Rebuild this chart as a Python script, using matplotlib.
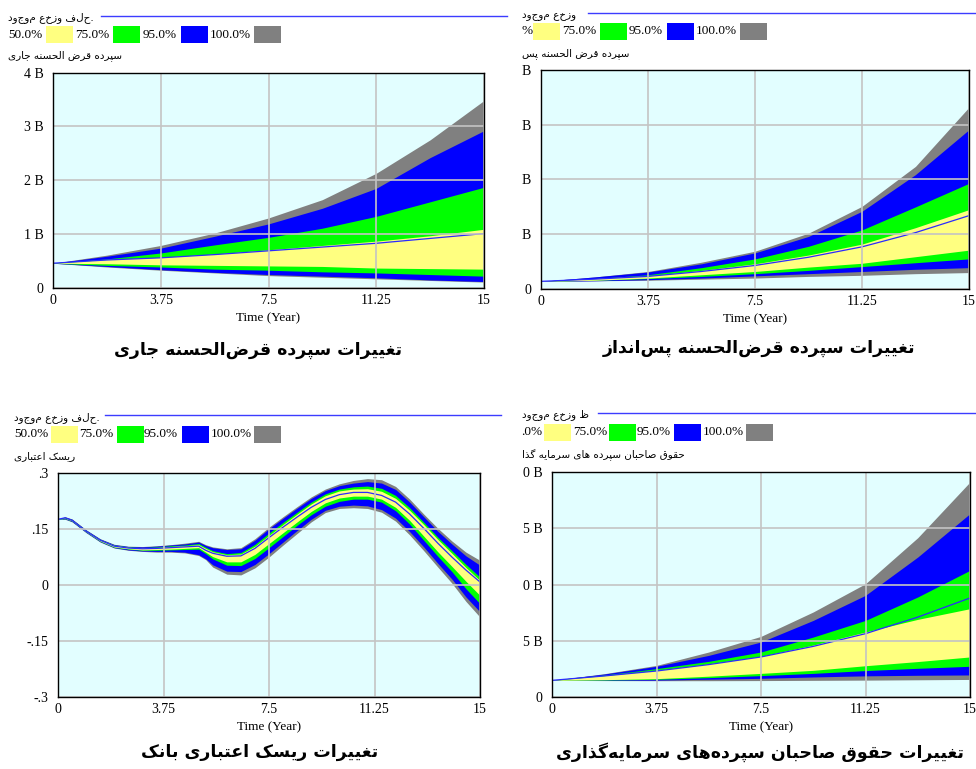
import matplotlib
matplotlib.use("Agg")
import matplotlib.pyplot as plt
from matplotlib.patches import Rectangle

W, H = 976, 769
SERIF = "Liberation Serif"
ARABIC = "DejaVu Sans"

BG = "#e2feff"
GRAY, BLUE, GREEN, YELLOW = "#808080", "#0000ff", "#00ff00", "#ffff80"
GRID = "#c4c4c4"

TICKS_X = [0, 3.75, 7.5, 11.25, 15]
TICK_LABELS_X = ["0", "3.75", "7.5", "11.25", "15"]
PCT_LABELS = ["50.0%", "75.0%", "95.0%", "100.0%"]

# ---- current deposits (B) ----
t1 = [0, 1.875, 3.75, 5.625, 7.5, 9.375, 11.25, 13.125, 15]
p1_gray_hi = [0.46, 0.61, 0.79, 1.02, 1.30, 1.64, 2.13, 2.75, 3.48]
p1_blue_hi = [0.46, 0.59, 0.74, 0.96, 1.19, 1.48, 1.85, 2.42, 2.92]
p1_green_hi = [0.46, 0.54, 0.65, 0.80, 0.94, 1.11, 1.33, 1.60, 1.87]
p1_yellow_hi = [0.46, 0.53, 0.57, 0.63, 0.71, 0.79, 0.87, 0.97, 1.09]
p1_median = [0.46, 0.52, 0.56, 0.62, 0.69, 0.76, 0.83, 0.92, 1.01]
p1_yellow_lo = [0.46, 0.45, 0.43, 0.42, 0.41, 0.40, 0.37, 0.36, 0.35]
p1_green_lo = [0.46, 0.42, 0.39, 0.35, 0.33, 0.30, 0.28, 0.25, 0.22]
p1_blue_lo = [0.46, 0.40, 0.34, 0.29, 0.25, 0.22, 0.19, 0.15, 0.12]
p1_gray_lo = [0.46, 0.39, 0.33, 0.28, 0.23, 0.20, 0.17, 0.14, 0.11]

# ---- savings deposits ----
t2 = [0, 1.875, 3.75, 5.625, 7.5, 9.375, 11.25, 13.125, 15]
p2_gray_hi = [0.14, 0.22, 0.32, 0.49, 0.69, 1.02, 1.51, 2.24, 3.32]
p2_blue_hi = [0.14, 0.22, 0.31, 0.46, 0.66, 0.96, 1.42, 2.09, 2.91]
p2_green_hi = [0.14, 0.19, 0.26, 0.39, 0.55, 0.78, 1.08, 1.50, 1.93]
p2_yellow_hi = [0.14, 0.19, 0.24, 0.34, 0.46, 0.62, 0.82, 1.12, 1.45]
p2_median = [0.14, 0.18, 0.23, 0.32, 0.43, 0.58, 0.77, 1.03, 1.34]
p2_yellow_lo = [0.14, 0.16, 0.20, 0.26, 0.32, 0.40, 0.47, 0.59, 0.71]
p2_green_lo = [0.14, 0.16, 0.19, 0.23, 0.28, 0.34, 0.41, 0.48, 0.55]
p2_blue_lo = [0.14, 0.15, 0.17, 0.20, 0.24, 0.28, 0.32, 0.36, 0.39]
p2_gray_lo = [0.14, 0.15, 0.16, 0.18, 0.20, 0.23, 0.25, 0.28, 0.30]

# ---- bank credit risk ----
t3 = [0, 0.25, 0.5, 1, 1.5, 2, 2.5, 3, 3.5, 4, 4.5, 5, 5.25, 5.5, 6, 6.5, 7, 7.5,
      8, 8.5, 9, 9.5, 10, 10.5, 11, 11.5, 12, 12.5, 13, 13.5, 14, 14.5, 15]
p3_gray_hi = [.176, .183, .177, .148, .124, .109, .104, .103, .105, .108, .112, .117, .108, .102,
              .097, .100, .124, .155, .183, .210, .236, .257, .271, .280, .285, .282, .264,
              .230, .190, .152, .118, .088, .066]
p3_blue_hi = [.176, .182, .176, .147, .123, .108, .103, .102, .104, .107, .110, .115, .106, .100,
              .095, .097, .120, .151, .179, .206, .232, .253, .266, .273, .277, .273, .256,
              .222, .183, .144, .110, .078, .053]
p3_green_hi = [.176, .181, .175, .146, .122, .107, .102, .100, .102, .105, .107, .111, .101, .092,
               .084, .087, .109, .139, .168, .195, .222, .244, .257, .263, .265, .259, .240,
               .207, .168, .128, .092, .055, .021]
p3_yellow_hi = [.176, .180, .174, .145, .121, .106, .101, .099, .100, .103, .105, .108, .098, .089,
                .081, .083, .104, .133, .162, .190, .217, .239, .252, .257, .258, .251, .232,
                .200, .162, .122, .085, .047, .012]
p3_median = [.176, .180, .173, .144, .120, .104, .099, .097, .098, .100, .102, .104, .093, .085,
             .077, .078, .098, .127, .155, .182, .208, .229, .242, .248, .248, .240, .222,
             .190, .152, .112, .075, .040, .008]
p3_yellow_lo = [.176, .179, .172, .143, .118, .102, .097, .094, .095, .096, .098, .100, .088, .076,
                .062, .062, .082, .111, .140, .169, .197, .220, .233, .238, .238, .230, .208,
                .173, .131, .089, .050, .010, -.028]
p3_green_lo = [.176, .178, .171, .142, .117, .101, .096, .093, .093, .094, .095, .096, .084, .070,
               .053, .052, .071, .100, .130, .160, .188, .211, .224, .230, .230, .222, .199,
               .163, .120, .077, .036, -.010, -.050]
p3_blue_lo = [.176, .177, .170, .141, .116, .100, .094, .091, .090, .090, .088, .081, .070, .054,
              .037, .036, .055, .084, .115, .146, .176, .200, .211, .214, .212, .202, .179,
              .143, .102, .058, .016, -.032, -.072]
p3_gray_lo = [.176, .176, .169, .140, .115, .099, .093, .090, .088, .088, .086, .079, .068, .048,
              .029, .027, .046, .075, .107, .138, .169, .194, .205, .207, .205, .195, .171,
              .134, .092, .048, .005, -.044, -.086]

# ---- investment depositors' equity (B) ----
t4 = [0, 1.875, 3.75, 5.625, 7.5, 9.375, 11.25, 13.125, 15]
p4_gray_hi = [1.48, 2.07, 2.81, 4.00, 5.39, 7.56, 10.07, 14.16, 19.11]
p4_blue_hi = [1.48, 2.04, 2.73, 3.70, 4.89, 6.81, 9.04, 12.44, 16.30]
p4_green_hi = [1.48, 1.96, 2.52, 3.17, 4.00, 5.33, 6.81, 8.89, 11.26]
p4_yellow_hi = [1.48, 1.90, 2.37, 2.95, 3.61, 4.62, 5.78, 6.90, 7.85]
p4_median = [1.48, 1.87, 2.31, 2.88, 3.56, 4.50, 5.63, 7.10, 8.80]
p4_yellow_lo = [1.48, 1.54, 1.63, 1.85, 2.10, 2.37, 2.78, 3.15, 3.56]
p4_green_lo = [1.48, 1.51, 1.57, 1.72, 1.90, 2.10, 2.35, 2.55, 2.73]
p4_blue_lo = [1.48, 1.48, 1.50, 1.58, 1.66, 1.78, 1.88, 1.93, 1.96]
p4_gray_lo = [1.48, 1.46, 1.45, 1.45, 1.46, 1.48, 1.50, 1.53, 1.56]

# ---------------------------------------------------------------------------
# minimal Persian shaping (presentation forms + visual order)
# ---------------------------------------------------------------------------
def _q(base):
    return tuple(chr(base + i) for i in range(4))

DUAL = {
    "\u0626": _q(0xFE89), "\u0628": _q(0xFE8F), "\u062A": _q(0xFE95), "\u062B": _q(0xFE99),
    "\u062C": _q(0xFE9D), "\u062D": _q(0xFEA1), "\u062E": _q(0xFEA5), "\u0633": _q(0xFEB1),
    "\u0634": _q(0xFEB5), "\u0635": _q(0xFEB9), "\u0636": _q(0xFEBD), "\u0637": _q(0xFEC1),
    "\u0638": _q(0xFEC5), "\u0639": _q(0xFEC9), "\u063A": _q(0xFECD), "\u0641": _q(0xFED1),
    "\u0642": _q(0xFED5), "\u0643": _q(0xFED9), "\u0644": _q(0xFEDD), "\u0645": _q(0xFEE1),
    "\u0646": _q(0xFEE5), "\u0647": _q(0xFEE9), "\u064A": _q(0xFEF1), "\u067E": _q(0xFB56),
    "\u0686": _q(0xFB7A), "\u06A9": _q(0xFB8E), "\u06AF": _q(0xFB92), "\u06CC": _q(0xFBFC),
}
RIGHT = {
    "\u0622": ("\uFE81", "\uFE82"), "\u0627": ("\uFE8D", "\uFE8E"), "\u062F": ("\uFEA9", "\uFEAA"),
    "\u0630": ("\uFEAB", "\uFEAC"), "\u0631": ("\uFEAD", "\uFEAE"), "\u0632": ("\uFEAF", "\uFEB0"),
    "\u0648": ("\uFEED", "\uFEEE"), "\u0698": ("\uFB8A", "\uFB8B"),
}


def fa(s):
    out = []
    for i, c in enumerate(s):
        prev = s[i - 1] if i > 0 else ""
        nxt = s[i + 1] if i + 1 < len(s) else ""
        joined_prev = prev in DUAL
        if c in DUAL:
            joined_next = nxt in DUAL or nxt in RIGHT
            iso, fin, ini, med = DUAL[c]
            out.append(med if joined_prev and joined_next else fin if joined_prev
                       else ini if joined_next else iso)
        elif c in RIGHT:
            out.append(RIGHT[c][1] if joined_prev else RIGHT[c][0])
        elif c != "\u200c":
            out.append(c)
    return "".join(out)[::-1]


fig = plt.figure(figsize=(W / 100, H / 100), dpi=100)


def ftext(x, y, s, **kw):
    kw.setdefault("family", SERIF)
    kw.setdefault("fontsize", 9.5)
    kw.setdefault("va", "center")
    return fig.text(x / W, 1 - y / H, s, **kw)


def fbox(x, y, w, h, color):
    fig.add_artist(Rectangle((x / W, 1 - (y + h) / H), w / W, h / H,
                             transform=fig.transFigure, fc=color, ec="none"))


def fline(x0, x1, y):
    fig.add_artist(plt.Line2D([x0 / W, x1 / W], [1 - y / H, 1 - y / H],
                              transform=fig.transFigure, color="#3c3cff", lw=1.0))


def legend_row(row_y, labels, label_x, box_x):
    for lab, lx in zip(labels, label_x):
        ftext(lx, row_y, lab)
    for bx, col in zip(box_x, [YELLOW, GREEN, BLUE, GRAY]):
        fbox(bx, row_y - 8.5, 27, 17, col)


def panel(rect, t, bands, median, ylim, yticks, ylabels, title, title_xy, varname, var_x, var_y):
    l, top, r, b = rect
    ax = fig.add_axes([l / W, 1 - b / H, (r - l) / W, (b - top) / H])
    ax.set_facecolor(BG)
    gray_lo, gray_hi, blue_lo, blue_hi, green_lo, green_hi, yel_lo, yel_hi = bands
    ax.fill_between(t, gray_lo, gray_hi, color=GRAY, lw=0)
    ax.fill_between(t, blue_lo, blue_hi, color=BLUE, lw=0)
    ax.fill_between(t, green_lo, green_hi, color=GREEN, lw=0)
    ax.fill_between(t, yel_lo, yel_hi, color=YELLOW, lw=0)
    ax.plot(t, median, color="#2a2aff", lw=0.9)
    ax.set_xlim(0, 15)
    ax.set_ylim(*ylim)
    ax.set_xticks(TICKS_X)
    ax.set_xticklabels(TICK_LABELS_X)
    ax.set_yticks(yticks)
    ax.set_yticklabels(ylabels)
    ax.grid(True, color=GRID, lw=1.2)
    ax.set_axisbelow(False)
    for ln in ax.get_xgridlines() + ax.get_ygridlines():
        ln.set_zorder(0.5)
    ax.tick_params(length=0, labelsize=10, pad=7)
    ax.tick_params(axis="x", pad=4)
    for lab in ax.get_xticklabels() + ax.get_yticklabels():
        lab.set_family(SERIF)
    for s in ax.spines.values():
        s.set_color("black")
        s.set_linewidth(1.0)
        s.set_zorder(5)
    ax.set_xlabel("Time (Year)", family=SERIF, fontsize=9.5, labelpad=4)
    ftext(var_x, var_y, fa(varname), family=ARABIC, fontsize=7.5)
    ftext(title_xy[0], title_xy[1], fa(title), family=ARABIC, fontsize=12.5,
          fontweight="bold", ha="center")
    return ax


# top-left
ftext(8, 18, "دوجوم عخزو فلح.", family=ARABIC, fontsize=7.5)
fline(101, 507, 16)
legend_row(34.5, PCT_LABELS, [8, 75, 143, 210], [46, 113, 181, 254])
panel((53, 72.5, 484, 288),
      t1, (p1_gray_lo, p1_gray_hi, p1_blue_lo, p1_blue_hi, p1_green_lo, p1_green_hi,
           p1_yellow_lo, p1_yellow_hi), p1_median,
      (0, 4), [0, 1, 2, 3, 4], ["0", "1 B", "2 B", "3 B", "4 B"],
      "تغییرات سپرده قرض\u200cالحسنه جاری", (258, 350),
      "سپرده قرض الحسنه جاری", 8, 56)

# top-right (left edge cut off)
ftext(522, 16, "دوجوم عخزو", family=ARABIC, fontsize=7.5)
fline(588, 976, 13)
legend_row(31, ["%"] + PCT_LABELS[1:], [522, 562, 629, 696], [533, 600, 667, 740])
panel((541, 70, 969, 289),
      t2, (p2_gray_lo, p2_gray_hi, p2_blue_lo, p2_blue_hi, p2_green_lo, p2_green_hi,
           p2_yellow_lo, p2_yellow_hi), p2_median,
      (0, 4), [0, 1, 2, 3, 4], ["0", "B", "B", "B", "B"],
      "تغییرات سپرده قرض\u200cالحسنه پس\u200cانداز", (759, 348),
      "سپرده قرض الحسنه پس", 522, 54)

# bottom-left
ftext(14, 418, "دوجوم عخزو فلح.", family=ARABIC, fontsize=7.5)
fline(105, 501, 415)
legend_row(434, PCT_LABELS, [14, 79, 144, 211], [51, 117, 182, 254])
panel((58, 473, 480, 697),
      t3, (p3_gray_lo, p3_gray_hi, p3_blue_lo, p3_blue_hi, p3_green_lo, p3_green_hi,
           p3_yellow_lo, p3_yellow_hi), p3_median,
      (-0.3, 0.3), [-0.3, -0.15, 0, 0.15, 0.3], ["-.3", "-.15", "0", ".15", ".3"],
      "تغییرات ریسک اعتباری بانک", (260, 752),
      "ریسک اعتباری", 14, 456)

# bottom-right (left edge cut off)
ftext(522, 415, "دوجوم عخزو ظ", family=ARABIC, fontsize=7.5)
fline(598, 976, 413)
legend_row(432, [".0%"] + PCT_LABELS[1:], [521, 573, 637, 703], [544, 609, 674, 746])
panel((552, 472, 970, 697),
      t4, (p4_gray_lo, p4_gray_hi, p4_blue_lo, p4_blue_hi, p4_green_lo, p4_green_hi,
           p4_yellow_lo, p4_yellow_hi), p4_median,
      (0, 20), [0, 5, 10, 15, 20], ["0", "5 B", "0 B", "5 B", "0 B"],
      "تغییرات حقوق صاحبان سپرده\u200cهای سرمایه\u200cگذاری", (760, 752),
      "حقوق صاحبان سپرده های سرمایه گذا", 522, 455)

fig.savefig("out.png", dpi=100, facecolor="white")
